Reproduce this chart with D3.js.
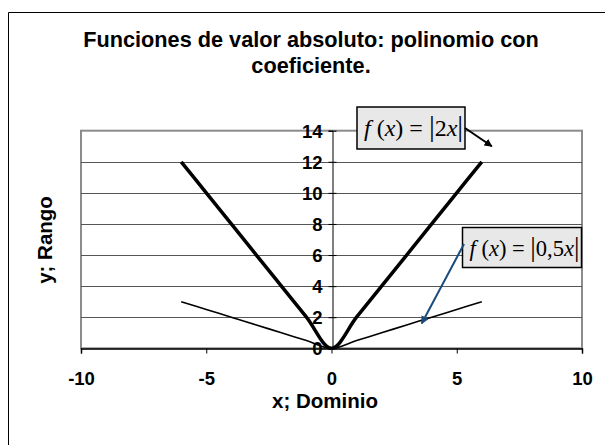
<!DOCTYPE html>
<html>
<head>
<meta charset="utf-8">
<script src="https://cdn.jsdelivr.net/npm/d3@7"></script>
<style>
  body { margin: 0; background: #fff; }
</style>
</head>
<body>
<svg width="605" height="445"></svg>
<script>
// data
var xs = [-6, -5, -4, -3, -2, -1, 0, 1, 2, 3, 4, 5, 6];
var yDouble = [12, 10, 8, 6, 4, 2, 0, 2, 4, 6, 8, 10, 12];   // |2x|
var yHalf = [3, 2.5, 2, 1.5, 1, 0.5, 0, 0.5, 1, 1.5, 2, 2.5, 3]; // |0,5x|
var xTicks = [-10, -5, 0, 5, 10];
var yTicks = [0, 2, 4, 6, 8, 10, 12, 14];
var titleLines = ["Funciones de valor absoluto: polinomio con", "coeficiente."];

var sans = "Arial, 'Liberation Sans', sans-serif";
var serif = "'Times New Roman', 'Liberation Serif', serif";

var svg = d3.select("svg");

// outer frame (only left / top visible)
svg.append("path")
  .attr("d", "M8.5,445V12.5H610")
  .attr("fill", "none")
  .attr("stroke", "#000")
  .attr("stroke-width", 1);

var x = d3.scaleLinear().domain([-10, 10]).range([81, 582]);
var y = d3.scaleLinear().domain([0, 14]).range([348.3, 130.7]);

// plot area border
svg.append("rect")
  .attr("x", x(-10)).attr("y", y(14))
  .attr("width", x(10) - x(-10)).attr("height", y(0) - y(14))
  .attr("fill", "none").attr("stroke", "#8c8c8c").attr("stroke-width", 2);

// horizontal gridlines
svg.append("g").selectAll("line")
  .data(yTicks.filter(function(d) { return d > 0 && d < 14; }))
  .enter().append("line")
    .attr("x1", x(-10)).attr("x2", x(10))
    .attr("y1", function(d) { return Math.round(y(d)) + 0.5; })
    .attr("y2", function(d) { return Math.round(y(d)) + 0.5; })
    .attr("stroke", "#555").attr("stroke-width", 1.2);

// x axis on y = 0
var xAxis = svg.append("g")
  .attr("transform", "translate(0," + (Math.round(y(0)) + 0.5) + ")")
  .call(d3.axisBottom(x).tickValues(xTicks).tickSize(5).tickFormat(String));
xAxis.select(".domain").attr("stroke", "#000").attr("stroke-width", 1.5);
xAxis.selectAll("text")
  .attr("y", 36).attr("dy", 0)
  .style("font-family", sans).style("font-size", "18.5px").style("font-weight", "bold")
  .attr("fill", "#000");

// y axis on x = 0
var yAxis = svg.append("g")
  .attr("transform", "translate(" + (Math.round(x(0)) + 0.5) + ",0)")
  .call(d3.axisLeft(y).tickValues(yTicks).tickSize(4).tickFormat(String));
yAxis.select(".domain").attr("stroke", "#000").attr("stroke-width", 1);
yAxis.selectAll(".tick line").attr("x1", 4).attr("x2", -4);
yAxis.selectAll("text")
  .attr("x", -10).attr("dy", "0.36em")
  .style("font-family", sans).style("font-size", "18.5px").style("font-weight", "bold")
  .attr("fill", "#000");

// series
var line = d3.line().curve(d3.curveCardinal.tension(0))
  .x(function(d) { return x(d[0]); })
  .y(function(d) { return y(d[1]); });

svg.append("path")
  .datum(xs.map(function(v, i) { return [v, yHalf[i]]; }))
  .attr("d", line)
  .attr("fill", "none").attr("stroke", "#000").attr("stroke-width", 1.6);

svg.append("path")
  .datum(xs.map(function(v, i) { return [v, yDouble[i]]; }))
  .attr("d", line)
  .attr("fill", "none").attr("stroke", "#000").attr("stroke-width", 3.5)
  .attr("stroke-linejoin", "round");

// title
svg.append("g").selectAll("text")
  .data(titleLines)
  .enter().append("text")
    .attr("x", 311)
    .attr("y", function(d, i) { return 46.7 + i * 26.6; })
    .attr("text-anchor", "middle")
    .style("font-family", sans).style("font-size", "21.7px").style("font-weight", "bold")
    .text(function(d) { return d; });

// axis titles
svg.append("text")
  .attr("x", 325).attr("y", 408)
  .attr("text-anchor", "middle")
  .style("font-family", sans).style("font-size", "20.5px").style("font-weight", "bold")
  .text("x; Dominio");

svg.append("text")
  .attr("transform", "translate(52,240) rotate(-90)")
  .attr("text-anchor", "middle")
  .style("font-family", sans).style("font-size", "20.5px").style("font-weight", "bold")
  .text("y; Rango");

// arrow markers
var defs = svg.append("defs");
[["arrBlack", "#000"], ["arrBlue", "#1b4a7c"]].forEach(function(m) {
  defs.append("marker")
    .attr("id", m[0])
    .attr("viewBox", "0 0 10 10")
    .attr("refX", 9).attr("refY", 5)
    .attr("markerWidth", 4).attr("markerHeight", 4)
    .attr("orient", "auto")
    .append("path").attr("d", "M0,0L10,5L0,10z").attr("fill", m[1]);
});

// label boxes: f(x) = |...x|
function labelBox(bx, by, bw, bh, inner, fs) {
  var g = svg.append("g");
  g.append("rect")
    .attr("x", bx).attr("y", by).attr("width", bw).attr("height", bh)
    .attr("fill", "#e8e8e8").attr("stroke", "#000").attr("stroke-width", 1.5);
  var t = g.append("text")
    .attr("x", bx + 7).attr("y", by + bh / 2 + 8)
    .style("font-family", serif).style("font-size", fs + "px");
  var parts = [["f", 1], [" (", 0], ["x", 1], [")", 0], [" = ", 0], ["|", 0], [inner, 0], ["x", 1], ["|", 0]];
  parts.forEach(function(p) {
    var s = t.append("tspan").style("font-style", p[1] ? "italic" : "normal").text(p[0]);
    if (p[0] === "|") s.style("font-size", (fs + 5) + "px");
  });
  return g;
}

labelBox(357, 107, 108, 42, "2", 24);
svg.append("line")
  .attr("x1", 465).attr("y1", 128).attr("x2", x(6.4)).attr("y2", y(13.0))
  .attr("stroke", "#000").attr("stroke-width", 2)
  .attr("marker-end", "url(#arrBlack)");

labelBox(462.5, 227.5, 119, 40, "0,5", 22.5);
svg.append("line")
  .attr("x1", 464).attr("y1", 244).attr("x2", x(3.6)).attr("y2", y(1.6))
  .attr("stroke", "#1b4a7c").attr("stroke-width", 2)
  .attr("marker-end", "url(#arrBlue)");
</script>
</body>
</html>
